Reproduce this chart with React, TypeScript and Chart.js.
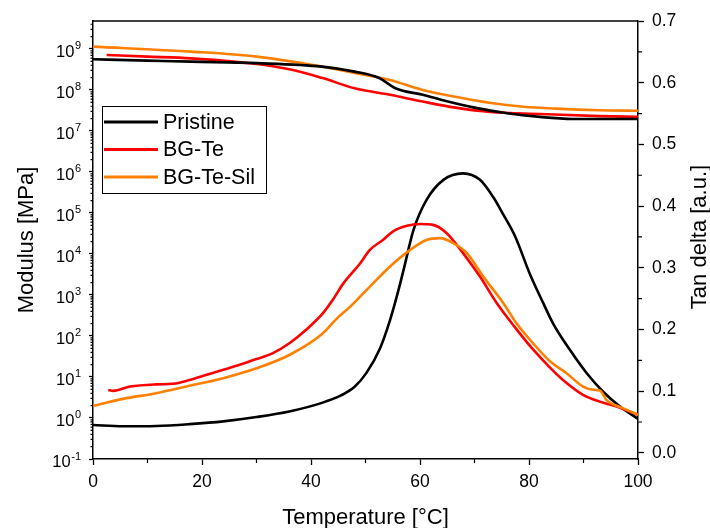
import { useEffect, useRef } from 'react';
import { Chart, registerables } from 'chart.js';

Chart.register(...registerables);

// ---------- data ----------
const xTickValues = [0, 20, 40, 60, 80, 100];
const xMinorValues = [10, 30, 50, 70, 90];
const tanTickValues = [0, 0.1, 0.2, 0.3, 0.4, 0.5, 0.6, 0.7];
const tanMinorValues = [0.05, 0.15, 0.25, 0.35, 0.45, 0.55, 0.65];
const modExponents = [-1, 0, 1, 2, 3, 4, 5, 6, 7, 8, 9];

const seriesNames = ['Pristine', 'BG-Te', 'BG-Te-Sil'];

// storage modulus [MPa]
const pristineModT = [0, 10, 18, 30, 42, 48, 52.5, 55.5, 60.5, 64, 70, 76, 82, 88, 94, 100];
const pristineMod = [5.6e8, 5.2e8, 4.9e8, 4.5e8, 3.7e8, 2.8e8, 1.96e8, 1.1e8, 7.6e7, 5.7e7, 3.7e7, 2.7e7, 2.2e7, 1.96e7, 1.95e7, 1.95e7];

const bgTeModT = [2.5, 10, 18, 30, 36.5, 42, 48, 54.5, 60.5, 66.5, 73, 82, 93, 100];
const bgTeMod = [7.1e8, 6.5e8, 5.9e8, 4.3e8, 3.1e8, 1.97e8, 1.1e8, 7.6e7, 5.2e7, 3.7e7, 2.9e7, 2.6e7, 2.3e7, 2.2e7];

const bgTeSilModT = [0, 18, 30, 42, 48, 54.5, 60.5, 66.5, 73, 79, 85, 93, 100];
const bgTeSilMod = [1.14e9, 8.6e8, 6.5e8, 3.7e8, 2.6e8, 1.75e8, 1.0e8, 6.8e7, 4.8e7, 3.9e7, 3.5e7, 3.2e7, 3.1e7];

// tan delta [a.u.]
const pristineTanT = [0, 5.5, 11.6, 17.7, 23.9, 30, 36, 42, 45.5, 48, 50.2, 52.7, 54.5, 56, 57, 58.8, 61.2, 64.3, 67.9, 71, 73.4, 75.3, 77.5, 80.2, 82.6, 84.4, 87.5, 90.6, 93.6, 96.7, 100];
const pristineTan = [0.045, 0.043, 0.0435, 0.0465, 0.051, 0.058, 0.067, 0.081, 0.093, 0.107, 0.13, 0.17, 0.215, 0.262, 0.297, 0.361, 0.41, 0.4425, 0.453, 0.4425, 0.415, 0.386, 0.35, 0.289, 0.243, 0.21, 0.167, 0.129, 0.099, 0.075, 0.055];

const bgTeTanT = [2.8, 3.7, 6.8, 11.6, 14.7, 17.7, 20.7, 23.9, 26.9, 30, 33, 36.1, 39.1, 42.2, 44, 46, 49, 50.8, 53.2, 55, 57.6, 60, 62.4, 64.9, 67.9, 71, 74.1, 77.3, 80.5, 83.9, 86.9, 89.9, 93, 96.1, 100];
const bgTeTan = [0.102, 0.1005, 0.1075, 0.111, 0.112, 0.118, 0.126, 0.1345, 0.1426, 0.152, 0.1616, 0.178, 0.1994, 0.2264, 0.248, 0.2755, 0.307, 0.329, 0.345, 0.3587, 0.368, 0.371, 0.3695, 0.356, 0.3237, 0.2857, 0.2426, 0.205, 0.17, 0.1378, 0.113, 0.094, 0.083, 0.075, 0.0616];

const bgTeSilTanT = [0, 5.5, 11.6, 17.7, 23.9, 30, 36.1, 42.2, 45, 47.2, 50.8, 54.5, 58.2, 61.2, 63.7, 66.1, 68.6, 71.6, 75.3, 77.7, 80.7, 83.9, 86.9, 89.9, 92, 93, 94.3, 97.2, 100];
const bgTeSilTan = [0.076, 0.0875, 0.0967, 0.1086, 0.121, 0.137, 0.159, 0.194, 0.22, 0.237, 0.2695, 0.302, 0.329, 0.345, 0.348, 0.34, 0.3237, 0.2857, 0.2426, 0.21, 0.178, 0.148, 0.129, 0.1075, 0.102, 0.101, 0.085, 0.0724, 0.0616];

// ---------- styles ----------
const COLORS = ['#000000', '#ff0000', '#ff8000'];
const FONT = '"Liberation Sans", Arial, sans-serif';

const toPoints = (xs: number[], ys: number[]) => xs.map((x, i) => ({ x, y: ys[i] }));

const frameAndLabels = {
  id: 'frameAndLabels',
  afterDraw(chart: any) {
    const { ctx, chartArea } = chart;
    const xS = chart.scales.x;
    const yS = chart.scales.y;
    const rS = chart.scales.y1;
    ctx.save();
    ctx.strokeStyle = '#000';
    ctx.lineWidth = 1.5;
    // top border
    ctx.beginPath();
    ctx.moveTo(chartArea.left, chartArea.top);
    ctx.lineTo(chartArea.right, chartArea.top);
    ctx.stroke();

    // minor ticks
    ctx.lineWidth = 1.2;
    ctx.beginPath();
    xMinorValues.forEach((v) => {
      const px = xS.getPixelForValue(v);
      ctx.moveTo(px, chartArea.bottom);
      ctx.lineTo(px, chartArea.bottom + 4);
    });
    tanMinorValues.forEach((v) => {
      const py = rS.getPixelForValue(v);
      ctx.moveTo(chartArea.right, py);
      ctx.lineTo(chartArea.right + 4, py);
    });
    modExponents.forEach((p) => {
      for (let k = 2; k <= 9; k++) {
        const v = k * Math.pow(10, p);
        if (v > yS.max) continue;
        const py = yS.getPixelForValue(v);
        ctx.moveTo(chartArea.left, py);
        ctx.lineTo(chartArea.left - 2.5, py);
      }
    });
    ctx.stroke();

    // left log labels 10^n
    ctx.fillStyle = '#000';
    ctx.textBaseline = 'alphabetic';
    ctx.textAlign = 'left';
    modExponents.forEach((p) => {
      const py = yS.getPixelForValue(Math.pow(10, p));
      const exp = String(p);
      ctx.font = `11px ${FONT}`;
      const wExp = ctx.measureText(exp).width;
      ctx.font = `16.5px ${FONT}`;
      const wBase = ctx.measureText('10').width;
      const right = chartArea.left - 12;
      const expX = right - wExp;
      const baseX = expX - wBase - 0.5;
      ctx.fillText('10', baseX, py + 8);
      ctx.font = `11px ${FONT}`;
      ctx.fillText(exp, expX, py + 0.5);
    });

    // axis titles
    ctx.font = `22px ${FONT}`;
    ctx.textAlign = 'center';
    ctx.textBaseline = 'alphabetic';
    const midY = (chartArea.top + chartArea.bottom) / 2;
    ctx.save();
    ctx.translate(33, midY);
    ctx.rotate(-Math.PI / 2);
    ctx.fillText('Modulus [MPa]', 0, 0);
    ctx.restore();
    ctx.save();
    ctx.translate(706, midY - 3);
    ctx.rotate(-Math.PI / 2);
    ctx.fillText('Tan delta [a.u.]', 0, 0);
    ctx.restore();
    ctx.fillText('Temperature [°C]', (chartArea.left + chartArea.right) / 2, 524);

    // legend
    const lx = chartArea.left + 9;
    const ly = chartArea.top + 85;
    ctx.lineWidth = 1;
    ctx.strokeStyle = '#000';
    ctx.strokeRect(lx + 0.5, ly + 0.5, 164, 87);
    ctx.font = `21.5px ${FONT}`;
    ctx.textAlign = 'left';
    ctx.textBaseline = 'middle';
    seriesNames.forEach((name, i) => {
      const ry = ly + 16 + i * 27.5;
      ctx.strokeStyle = COLORS[i];
      ctx.lineWidth = 2.8;
      ctx.beginPath();
      ctx.moveTo(lx + 2, ry);
      ctx.lineTo(lx + 56, ry);
      ctx.stroke();
      ctx.fillStyle = '#000';
      ctx.fillText(name, lx + 61, ry + 1);
    });
    ctx.restore();
  },
};

export default function App() {
  const ref = useRef<HTMLCanvasElement | null>(null);

  useEffect(() => {
    if (!ref.current) return;
    const lineBase = {
      borderWidth: 2.6,
      pointRadius: 0,
      fill: false,
      cubicInterpolationMode: 'monotone' as const,
    };
    const chart = new Chart(ref.current, {
      type: 'line',
      data: {
        datasets: [
          { ...lineBase, label: seriesNames[2] + ' tan', data: toPoints(bgTeSilTanT, bgTeSilTan), borderColor: COLORS[2], yAxisID: 'y1' },
          { ...lineBase, label: seriesNames[1] + ' tan', data: toPoints(bgTeTanT, bgTeTan), borderColor: COLORS[1], yAxisID: 'y1' },
          { ...lineBase, label: seriesNames[0] + ' tan', data: toPoints(pristineTanT, pristineTan), borderColor: COLORS[0], yAxisID: 'y1' },
          { ...lineBase, label: seriesNames[0], data: toPoints(pristineModT, pristineMod), borderColor: COLORS[0], yAxisID: 'y' },
          { ...lineBase, label: seriesNames[1], data: toPoints(bgTeModT, bgTeMod), borderColor: COLORS[1], yAxisID: 'y' },
          { ...lineBase, label: seriesNames[2], data: toPoints(bgTeSilModT, bgTeSilMod), borderColor: COLORS[2], yAxisID: 'y' },
        ],
      },
      options: {
        animation: false,
        responsive: false,
        devicePixelRatio: 1,
        layout: { padding: { top: 21, left: 0, right: 0, bottom: 0 } },
        plugins: { legend: { display: false }, tooltip: { enabled: false }, title: { display: false } },
        scales: {
          x: {
            type: 'linear',
            position: 'bottom',
            min: 0,
            max: 100,
            afterBuildTicks: (s: any) => { s.ticks = xTickValues.map((v) => ({ value: v })); },
            afterFit: (s: any) => { s.height = 69; },
            grid: { display: true, drawOnChartArea: false, drawTicks: true, tickLength: 6, tickColor: '#000', tickWidth: 1.3 },
            border: { display: true, color: '#000', width: 1.5 },
            ticks: { color: '#000', font: { family: FONT, size: 17.5 }, padding: 7, maxRotation: 0, callback: (v: any) => String(v) },
          },
          y: {
            type: 'logarithmic',
            position: 'left',
            min: 0.1,
            max: 4.8e9,
            afterBuildTicks: (s: any) => { s.ticks = modExponents.map((p) => ({ value: Math.pow(10, p) })); },
            afterFit: (s: any) => { s.width = 93; },
            grid: { display: true, drawOnChartArea: false, drawTicks: true, tickLength: 4, tickColor: '#000', tickWidth: 1.3 },
            border: { display: true, color: '#000', width: 1.5 },
            ticks: { display: false },
          },
          y1: {
            type: 'linear',
            position: 'right',
            min: -0.01,
            max: 0.7,
            afterBuildTicks: (s: any) => { s.ticks = tanTickValues.map((v) => ({ value: v })); },
            afterFit: (s: any) => { s.width = 72; },
            grid: { display: true, drawOnChartArea: false, drawTicks: true, tickLength: 6, tickColor: '#000', tickWidth: 1.3 },
            border: { display: true, color: '#000', width: 1.5 },
            ticks: { color: '#000', font: { family: FONT, size: 17.5 }, padding: 8, callback: (v: any) => Number(v).toFixed(1) },
          },
        },
      },
      plugins: [frameAndLabels],
    });
    return () => chart.destroy();
  }, []);

  return (
    <div style={{ position: 'fixed', left: 0, top: 0, width: 710, height: 528, background: '#fff' }}>
      <canvas ref={ref} width={710} height={528} />
    </div>
  );
}
